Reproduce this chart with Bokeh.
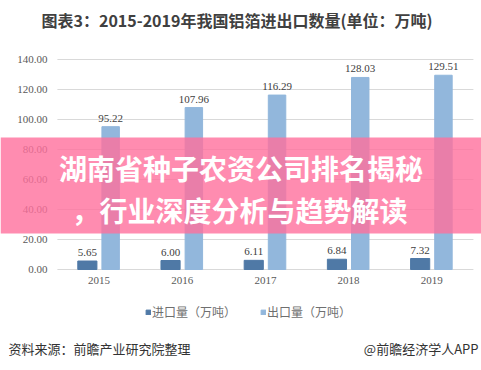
from bokeh.plotting import figure
from bokeh.models import (ColumnDataSource, LabelSet, Label, BoxAnnotation, Legend,
                          LegendItem, Range1d)
from bokeh.transform import dodge
from bokeh.embed import file_html
from bokeh.resources import INLINE

years = ["2015", "2016", "2017", "2018", "2019"]
imports = [5.65, 6.00, 6.11, 6.84, 7.32]
exports = [95.22, 107.96, 116.29, 128.03, 129.51]
yticks = [0, 20, 40, 60, 80, 100, 120, 140]
ytick_labels = [f"{v:.2f}" for v in yticks]

title_text = "图表3：2015-2019年我国铝箔进出口数量(单位：万吨)"
band_line1 = "湖南省种子农资公司排名揭秘"
band_line2 = "，行业深度分析与趋势解读"
source_text = "资料来源：前瞻产业研究院整理"
brand_text = "@前瞻经济学人APP"
imp_name = "进口量（万吨）"
exp_name = "出口量（万吨）"

FONT = "Noto Sans CJK SC"
IMP_COLOR = "#4f79a6"
EXP_COLOR = "#92b7dc"
W, H = 481, 370
CAT_PX = 83.2      # pixels per category
FIRST_PX = 98.5    # pixel centre of first category
PX_PER_UNIT = 1.5  # vertical pixels per value unit
ZERO_PX = 269      # pixel row of value 0

idx = list(range(len(years)))
src = ColumnDataSource(dict(
    idx=idx, year=years, imp=imports, exp=exports, zero=[0] * len(years),
    imp_txt=[f"{v:.2f}" for v in imports],
    exp_txt=[f"{v:.2f}" for v in exports],
))
tick_src = ColumnDataSource(dict(v=yticks, t=ytick_labels))

p = figure(width=W, height=H, output_backend="svg", toolbar_location=None,
           x_range=Range1d(-FIRST_PX / CAT_PX, (W - FIRST_PX) / CAT_PX),
           y_range=Range1d(-(H - ZERO_PX) / PX_PER_UNIT, ZERO_PX / PX_PER_UNIT),
           min_border=0, x_axis_location=None, y_axis_location=None)
p.outline_line_color = None
p.grid.visible = False

# horizontal grid lines over the category span
p.segment(x0=-0.5, x1=len(years) - 0.5, y0="v", y1="v", source=tick_src,
          line_color="#d9d9d9", line_width=1)

r_imp = p.vbar(x=dodge("idx", -0.14), top="imp", width=0.23, source=src, color=IMP_COLOR)
r_exp = p.vbar(x=dodge("idx", 0.14), top="exp", width=0.21, source=src, color=EXP_COLOR)

for fld, txt, off in (("imp", "imp_txt", -0.14), ("exp", "exp_txt", 0.14)):
    p.add_layout(LabelSet(x=dodge("idx", off), y=fld, text=txt,
                          source=src, text_align="center", text_baseline="bottom",
                          y_offset=5, text_font_size="11px", text_color="#404040",
                          text_font=FONT))

# y tick labels
p.add_layout(LabelSet(x=-0.5, y="v", text="t", source=tick_src, x_offset=-10,
                      text_align="right", text_baseline="middle",
                      text_font_size="11px", text_color="#595959", text_font=FONT))
# x tick labels
p.add_layout(LabelSet(x="idx", y="zero", text="year", source=src, y_offset=-7,
                      text_align="center", text_baseline="top",
                      text_font_size="11px", text_color="#595959", text_font=FONT))

# title
p.add_layout(Label(x=236.5, y=H - 19.5, x_units="screen", y_units="screen",
                   text=title_text, text_align="center", text_baseline="middle",
                   text_font=FONT, text_font_style="bold", text_font_size="16px",
                   text_color="#404040"))

# legend
legend = Legend(items=[LegendItem(label=imp_name, renderers=[r_imp]),
                       LegendItem(label=exp_name, renderers=[r_exp])],
                orientation="horizontal", location=(145, 50),
                glyph_width=6, glyph_height=6, label_height=12,
                label_text_font_size="12px", label_text_color="#6f6f6f",
                label_text_font=FONT, label_standoff=1, spacing=24,
                padding=0, margin=0, border_line_color=None,
                background_fill_alpha=0)
p.add_layout(legend, "center")

# source line
p.add_layout(Label(x=8, y=22, x_units="screen", y_units="screen", text=source_text,
                   text_align="left", text_baseline="middle",
                   text_font=FONT, text_font_size="13px", text_color="#333333"))
p.add_layout(Label(x=478, y=22, x_units="screen", y_units="screen", text=brand_text,
                   text_align="right", text_baseline="middle",
                   text_font=FONT, text_font_size="13px", text_color="#333333"))

# pink overlay band with headline
p.add_layout(BoxAnnotation(bottom=24, top=88, fill_color="#ff6f9c", fill_alpha=0.8,
                           line_color=None))
p.add_layout(Label(x=240.5, y=68, x_units="screen", text=band_line1,
                   text_align="center", text_baseline="middle",
                   text_font=FONT, text_font_style="bold", text_font_size="28px",
                   text_color="white"))
p.add_layout(Label(x=239, y=39.5, x_units="screen", text=band_line2,
                   text_align="center", text_baseline="middle",
                   text_font=FONT, text_font_style="bold", text_font_size="28px",
                   text_color="white"))

open("out.html", "w").write(file_html(p, INLINE))
